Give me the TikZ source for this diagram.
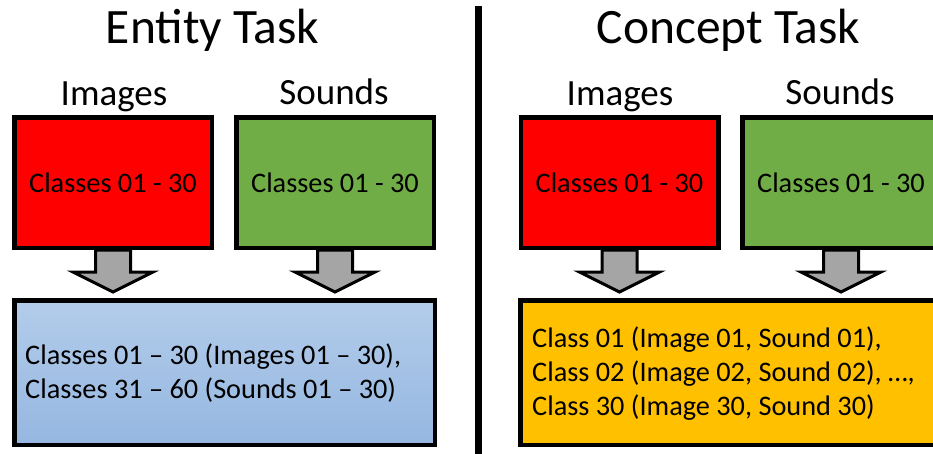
\documentclass[tikz,border=0pt]{standalone}
\usepackage{fontspec}
\setmainfont{Carlito}
\usetikzlibrary{calc}
\definecolor{boxred}{HTML}{FF0000}
\definecolor{boxgreen}{HTML}{70AD47}
\definecolor{boxorange}{HTML}{FFC000}
\definecolor{arrowgray}{HTML}{A5A5A5}
\definecolor{bluetop}{HTML}{B3CCEA}
\definecolor{bluebot}{HTML}{95B7E1}
\tikzset{
  box/.style={draw=black, line width=4.5pt, inner sep=0pt, align=center,
    font=\fontsize{28.3}{34}\selectfont},
  smallbox/.style={box, minimum width=197.5pt, minimum height=130.5pt},
  bigbox/.style={box, minimum width=420.5pt, minimum height=144.5pt},
  title/.style={anchor=base, font=\fontsize{49.5}{58}\selectfont, inner sep=0pt},
  label/.style={anchor=base, font=\fontsize{37}{44}\selectfont, inner sep=0pt},
  boxtext/.style={anchor=west, align=left, inner sep=0pt, font=\fontsize{28.3}{34}\selectfont},
  fatarrow/.style={draw=black, fill=arrowgray, line width=3pt, line join=miter}
}
\newcommand{\fatarrowfrom}[1]{%
  \draw[fatarrow] ($(#1.south)+(-17.5,0)$) -- ($(#1.south)+(-17.5,22)$)
    -- ($(#1.south)+(-40,22)$) -- ($(#1.south)+(0,42)$)
    -- ($(#1.south)+(40,22)$) -- ($(#1.south)+(17.5,22)$)
    -- ($(#1.south)+(17.5,0)$) -- cycle;}
\begin{document}
\begin{tikzpicture}[x=1pt,y=-1pt]
\useasboundingbox (0,0) rectangle (933,453);
\clip (0,0) rectangle (933,453);
% titles
\node[title] (t1) at (212.5,43) {Entity Task};
\node[title] (t2) at (728.5,43) {Concept Task};
% divider
\draw[line width=7pt] (478,6) coordinate (d1) -- (478,460) coordinate (d2);
% labels
\node[label] (l1) at (114,105) {Images};
\node[label] (l2) at (334,104) {Sounds};
\node[label] (l3) at (620,105) {Images};
\node[label] (l4) at (840,104) {Sounds};
% left panel
\node[smallbox, fill=boxred] (r1) at (113,182.5) {Classes 01 - 30};
\node[smallbox, fill=boxgreen] (g1) at (335,182.5) {Classes 01 - 30};
\node[bigbox, top color=bluetop, bottom color=bluebot, draw=black] (b1) at (224.5,372.5) {};
\node[boxtext] (bt) at (25,373.5) {Classes 01 – 30 (Images 01 – 30),\\Classes 31 – 60 (Sounds 01 – 30)};
% right panel
\node[smallbox, fill=boxred] (r2) at (619.5,182.5) {Classes 01 - 30};
\node[smallbox, fill=boxgreen] (g2) at (841,182.5) {Classes 01 - 30};
\node[bigbox, fill=boxorange] (o2) at (730.5,372.5) {};
\node[boxtext] (ot) at (532,374) {Class 01 (Image 01, Sound 01),\\Class 02 (Image 02, Sound 02), …,\\Class 30 (Image 30, Sound 30)};
% arrows
\fatarrowfrom{r1}
\fatarrowfrom{g1}
\fatarrowfrom{r2}
\fatarrowfrom{g2}
\end{tikzpicture}
\end{document}
